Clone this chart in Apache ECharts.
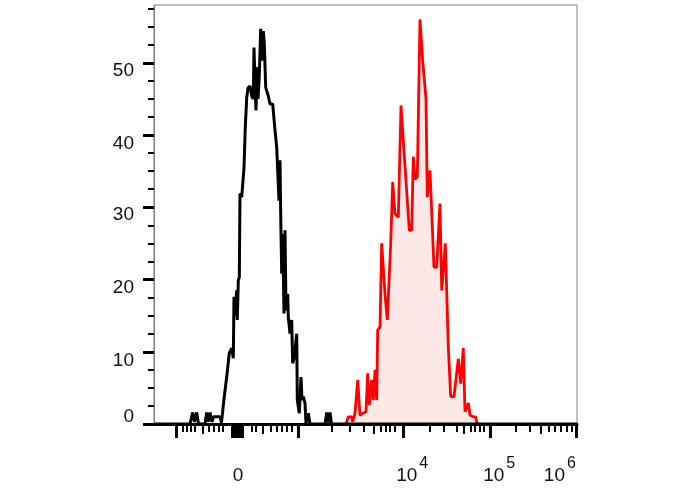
<!DOCTYPE html>
<html>
<head>
<meta charset="utf-8">
<script src="https://cdn.jsdelivr.net/npm/echarts@6/dist/echarts.min.js"></script>
<style>
html,body{margin:0;padding:0;background:#fff;}
#chart{width:688px;height:490px;}
</style>
</head>
<body>
<div id="chart"></div>
<script>
// x values are display channels (0..1000) of a biexponential fluorescence axis
const blackX = [0,85.1,91.5,95.7,100.9,105.2,120.6,124.6,128.1,132.4,137.1,140.7,156.0,159.6,165.5,171.9,178.0,183.7,187.5,189.1,191.5,195.5,196.9,199.3,201.7,203.3,207.3,209.2,212.8,215.8,219.2,222.2,227.0,231.0,234.8,236.4,238.8,241.1,244.2,245.9,248.9,252.2,254.6,257.0,258.4,260.8,264.1,270.2,274.2,280.6,286.1,290.1,293.9,295.5,297.9,299.5,301.9,304.3,307.3,309.7,312.1,316.1,317.5,321.5,325.5,327.9,331.7,337.4,338.8,343.5,347.5,349.9,353.0,357.0,359.3,364.8,368.8,404.3,408.3,412.1,416.1,419.6,1000];
const blackY = [0,0,1.6,0.3,1.6,0,0,1.6,0.3,1.6,0.3,1.0,1.0,0.2,3.5,6.5,9.8,10.5,9.1,17.6,15.0,18.5,14.4,19.9,20.3,31.9,31.4,32.8,35.5,41.1,45.2,46.5,46.8,45.4,45.0,52.1,47.1,43.4,49.4,45.0,48.2,54.7,53.5,50.3,54.4,52.6,46.6,45.4,44.3,44.3,40.6,38.3,38.3,30.9,36.5,29.1,20.8,26.3,15.3,26.8,15.7,18.0,14.8,12.5,14.4,8.4,9.3,12.5,3.3,1.5,6.5,3.3,3.8,2.9,0.1,1.5,0,0,1.6,0.2,1.6,0,0];

const redX = [453.9,459.3,467.4,469.7,475.2,481.6,487.0,494.1,501.2,505.2,509.0,514.7,518.4,522.5,526.5,528.8,534.3,538.3,546.1,551.6,556.3,559.6,564.3,569.7,577.6,583.9,591.0,603.6,609.2,613.0,617.0,622.5,628.8,635.2,643.0,646.1,650.1,652.5,661.9,668.3,676.1,680.2,683.9,688.7,695.8,701.4,709.2,719.4,725.1,731.2,735.2,739.3,743.1,747.1,754.9,760.1,764.3];
const redY = [0,1.0,1.0,0.3,1.5,6.1,1.2,1.5,1.7,7.0,2.6,6.1,3.3,7.5,3.3,13.0,13.4,25.0,18.0,14.4,14.4,25.0,33.5,29.1,28.6,44.1,37.8,26.8,26.8,37.0,33.9,34.2,56.0,50.3,45.0,31.4,31.4,35.1,21.7,21.7,30.5,18.5,18.5,25.0,10.7,3.8,3.8,9.0,5.6,10.5,1.7,1.6,2.9,1.2,1.0,1.0,0];

// x axis ticks (display channels)
const xMajorTicks = [53.7,185.6,191.5,197.4,203.3,209.2,341.1,588.7,794.3,999];
const xMediumTicks = [115.1,257.0,518.4,732.9,914.2];
const xMinorTicks = [67.9,77.3,86.8,95.3,128.4,140.2,152.0,163.1,231.0,241.1,276.6,290.1,301.9,313.7,325.5,420.1,463.4,494.8,536.7,547.8,557.9,568.1,652.5,683.9,715.6,748.7,758.9,769.1,778.5,855.8,888.9,932.2,948.0,961.5,975.7,987.5];
const xLabelPos = [198.6,610.5,816.0,959.5];
const xLabelText = ['0','10^4','10^5','10^6'];

// y axis
const yMajorTicks = [0,10,20,30,40,50];
const yMinorTicks = [2.5,5,7.5,12.5,15,17.5,22.5,25,27.5,32.5,35,37.5,42.5,45,47.5,52.5,55,57.5];
const yLabelPos = [1.0,8.8,18.8,28.9,38.8,48.9];
const yLabelText = ['0','10','20','30','40','50'];

const X_MIN = 0, X_MAX = 1000, Y_MIN = 0, Y_MAX = 58;

function pairs(xs, ys){ return xs.map((x,i)=>[x, ys[i]]); }
function findIdx(arr, v){ for (let i=0;i<arr.length;i++){ if (Math.abs(arr[i]-v)<1e-6) return i; } return -1; }

const FONT = 'Liberation Sans, Arial, sans-serif';

const chart = echarts.init(document.getElementById('chart'), null, {renderer:'canvas'});

const xBase = {
  type:'value', min:X_MIN, max:X_MAX, position:'bottom',
  axisLine:{show:false, onZero:false}, splitLine:{show:false},
  axisLabel:{show:false}
};

chart.setOption({
  animation:false,
  backgroundColor:'#fff',
  grid:{left:154, right:111, top:5, bottom:66, show:true, borderColor:'#808080', borderWidth:1,
        containLabel:false, outerBoundsMode:'none'},
  xAxis:[
    {
      type:'value', min:X_MIN, max:X_MAX, position:'bottom',
      axisLine:{show:true, onZero:false, lineStyle:{color:'#000', width:3}},
      splitLine:{show:false},
      axisTick:{show:true, customValues:xMajorTicks, length:14, lineStyle:{color:'#000', width:3}},
      axisLabel:{
        show:true, customValues:xLabelPos, margin:42, color:'#111', fontFamily:FONT,
        formatter:function(v){
          const i = findIdx(xLabelPos, v);
          if (i < 0) return '';
          const t = xLabelText[i];
          if (t.indexOf('^') >= 0){
            const p = t.split('^');
            return '{b|' + p[0] + '}{s|' + p[1] + '}';
          }
          return '{b|' + t + '}';
        },
        rich:{
          b:{fontSize:19, lineHeight:20, fontFamily:FONT, color:'#111'},
          s:{fontSize:16, lineHeight:16, fontFamily:FONT, color:'#111', padding:[0,0,24,2]}
        }
      }
    },
    Object.assign({}, xBase, {axisTick:{show:true, customValues:xMediumTicks, length:10, lineStyle:{color:'#000', width:2}}}),
    Object.assign({}, xBase, {axisTick:{show:true, customValues:xMinorTicks, length:8, lineStyle:{color:'#000', width:2}}})
  ],
  yAxis:[
    {
      type:'value', min:Y_MIN, max:Y_MAX, position:'left',
      axisLine:{show:true, onZero:false, lineStyle:{color:'#808080', width:1}},
      splitLine:{show:false},
      axisTick:{show:true, customValues:yMajorTicks, length:11, lineStyle:{color:'#000', width:3}},
      axisLabel:{
        show:true, customValues:yLabelPos, margin:20, color:'#111', fontSize:19, fontFamily:FONT,
        formatter:function(v){ const i = findIdx(yLabelPos, v); return i < 0 ? '' : yLabelText[i]; }
      }
    },
    {
      type:'value', min:Y_MIN, max:Y_MAX, position:'left',
      axisLine:{show:false, onZero:false}, splitLine:{show:false}, axisLabel:{show:false},
      axisTick:{show:true, customValues:yMinorTicks, length:6, lineStyle:{color:'#000', width:2}}
    }
  ],
  series:[
    {
      type:'line', xAxisIndex:0, yAxisIndex:0, data:pairs(redX, redY),
      showSymbol:false, symbol:'none', smooth:false,
      lineStyle:{color:'#ff0000', width:2.8},
      areaStyle:{color:'#fde8e8', opacity:1},
      z:2
    },
    {
      type:'line', xAxisIndex:0, yAxisIndex:0, data:pairs(blackX, blackY),
      showSymbol:false, symbol:'none', smooth:false,
      lineStyle:{color:'#000', width:3},
      z:3
    }
  ]
});
</script>
</body>
</html>
